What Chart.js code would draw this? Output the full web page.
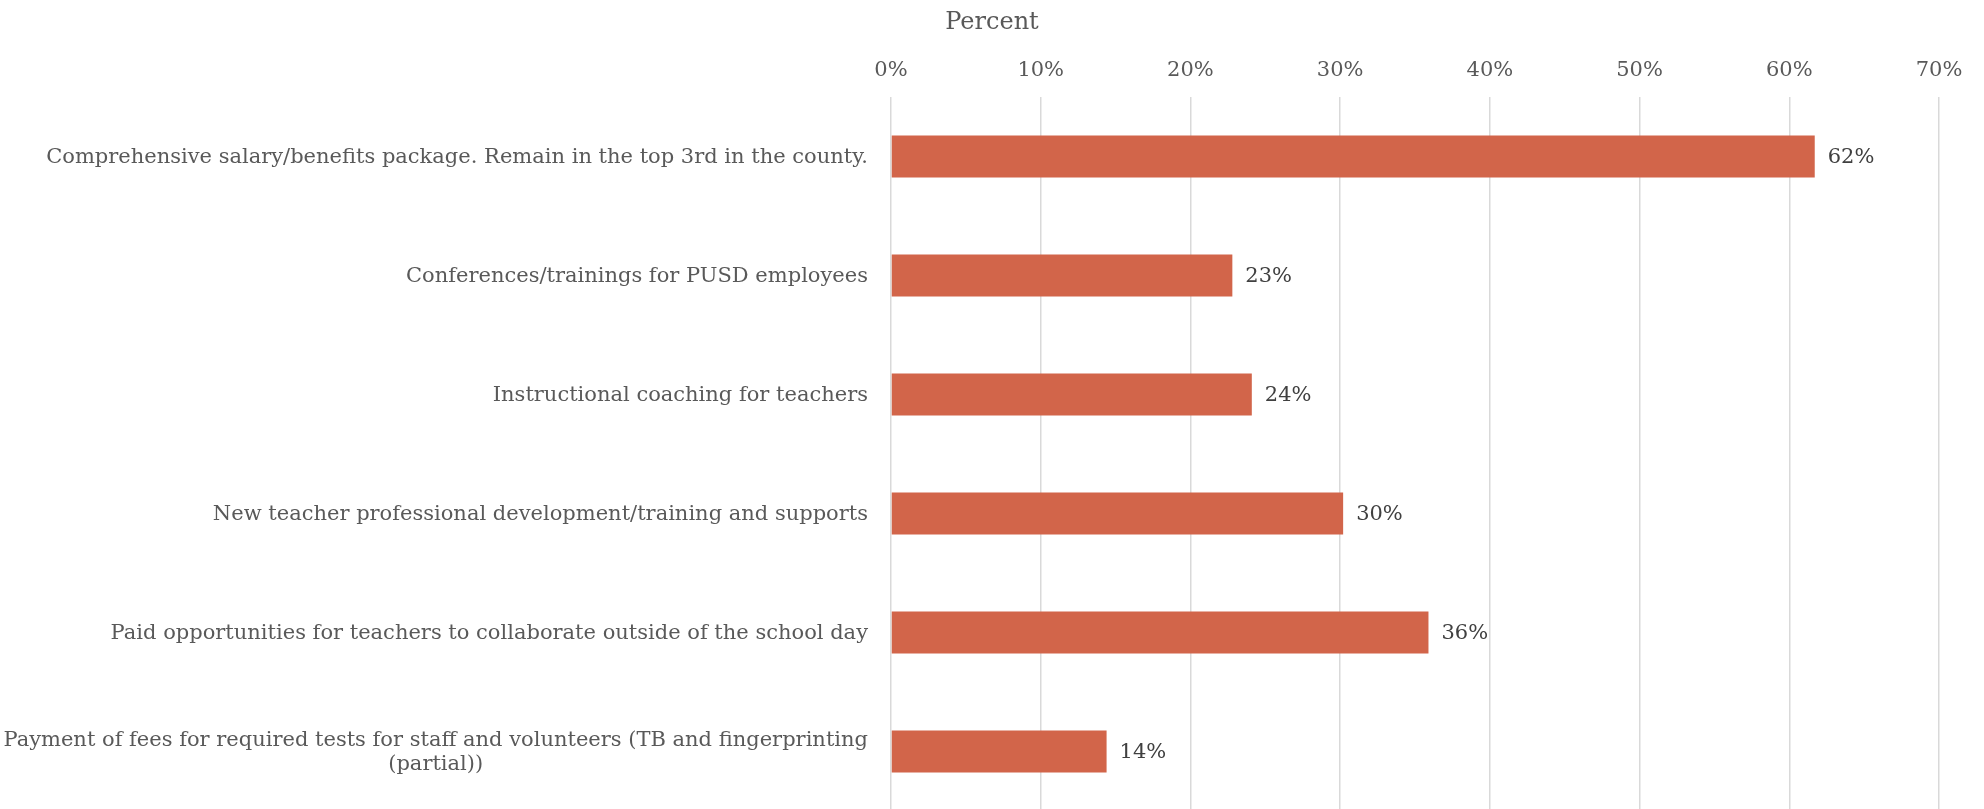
<!DOCTYPE html>
<html>
<head>
<meta charset="utf-8">
<script src="https://cdn.jsdelivr.net/npm/chart.js@4.4.1/dist/chart.umd.min.js"></script>
<style>
  html, body { margin: 0; padding: 0; background: #fff; overflow: hidden; }
  #wrap { position: relative; width: 1984px; height: 812px; }
</style>
</head>
<body>
<div id="wrap"><canvas id="chart"></canvas></div>
<script>
/* ══ Retention priorities — horizontal bar ══ */

const categories = [
  'Comprehensive salary/benefits package. Remain in the top 3rd in the county.',
  'Conferences/trainings for PUSD employees',
  'Instructional coaching for teachers',
  'New teacher professional development/training and supports',
  'Paid opportunities for teachers to collaborate outside of the school day',
  ['Payment of fees for required tests for staff and volunteers (TB and fingerprinting', '(partial))']
];
const percentValues = [61.7, 22.8, 24.1, 30.2, 35.9, 14.4];
const xTicks = [0, 10, 20, 30, 40, 50, 60, 70];

const FONT = "'DejaVu Serif', Georgia, serif";
const GREY = '#595959';

// value labels at the end of each bar
const barLabels = {
  id: 'barLabels',
  afterDatasetsDraw(chart) {
    const { ctx } = chart;
    const meta = chart.getDatasetMeta(0);
    ctx.save();
    ctx.font = '21px ' + FONT;
    ctx.fillStyle = '#404040';
    ctx.textAlign = 'left';
    ctx.textBaseline = 'middle';
    meta.data.forEach((bar, i) => {
      ctx.fillText(Math.round(percentValues[i]) + '%', bar.x + 13, bar.y + 1);
    });
    ctx.restore();
  }
};

// category labels: block right-aligned to the axis, wrapped lines centred inside it (Excel-like)
const catLabels = {
  id: 'catLabels',
  afterDraw(chart) {
    const { ctx, scales: { y } } = chart;
    const right = y.right - 23, lh = 24;
    ctx.save();
    ctx.font = '21px ' + FONT;
    ctx.fillStyle = GREY;
    ctx.textAlign = 'center';
    ctx.textBaseline = 'middle';
    categories.forEach((lab, i) => {
      const lines = Array.isArray(lab) ? lab : [lab];
      const w = Math.max(...lines.map(l => ctx.measureText(l).width));
      const cx = right - w / 2;
      const cy = y.getPixelForTick(i) - (lines.length - 1) * lh / 2;
      lines.forEach((l, k) => ctx.fillText(l, cx, cy + k * lh + 1));
    });
    ctx.restore();
  }
};

new Chart(document.getElementById('chart').getContext('2d'), {
  type: 'bar',
  data: {
    labels: categories,
    datasets: [{
      data: percentValues,
      backgroundColor: '#d2654a',
      borderWidth: 0,
      categoryPercentage: 1,
      barPercentage: 0.353
    }]
  },
  options: {
    indexAxis: 'y',
    responsive: true, maintainAspectRatio: false,
    animation: false,
    layout: { padding: { left: 0, right: 0, top: 0, bottom: 1 } },
    plugins: {
      legend: { display: false },
      tooltip: { enabled: false },
      title: {
        display: true, text: 'Percent', color: GREY,
        font: { size: 24, family: FONT, weight: 'normal' },
        padding: { top: 8, bottom: 0 }
      }
    },
    scales: {
      x: {
        position: 'top',
        min: 0, max: 70,
        afterBuildTicks: s => { s.ticks = xTicks.map(v => ({ value: v })); },
        afterFit: s => { s.height = 60.2; s.paddingRight = 45; s.paddingLeft = 0; },
        ticks: {
          color: GREY, padding: 14, maxRotation: 0,
          font: { size: 21, family: FONT },
          callback: v => v + '%'
        },
        grid: { color: '#d9d9d9', lineWidth: 1.5, drawTicks: false },
        border: { display: false }
      },
      y: {
        afterFit: s => { s.width = 891; s.paddingTop = 0; s.paddingBottom = 0; },
        ticks: { display: false },
        grid: { display: false, drawTicks: false },
        border: { display: false }
      }
    }
  },
  plugins: [barLabels, catLabels]
});
</script>
</body>
</html>
